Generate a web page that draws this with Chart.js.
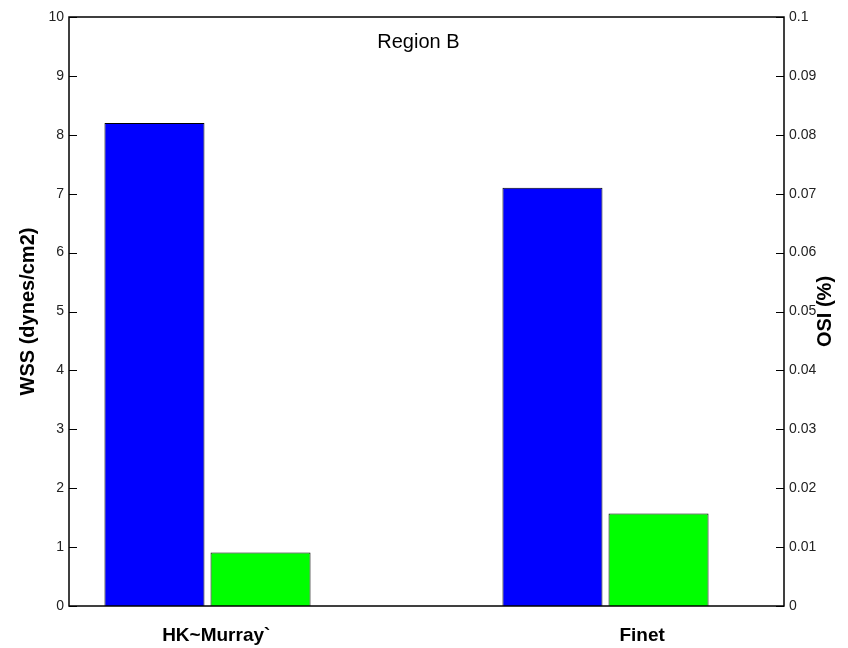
<!DOCTYPE html>
<html>
<head>
<meta charset="utf-8">
<title>Region B – WSS and OSI</title>
<script src="https://cdn.jsdelivr.net/npm/chart.js@4.4.1/dist/chart.umd.min.js"></script>
<style>
  html, body { margin: 0; padding: 0; background: #fff; }
  canvas { display: block; }
</style>
</head>
<body>
<canvas id="chart" width="848" height="648"></canvas>
<script>
// Cases compared in region B
const categories = ['HK~Murray`', 'Finet'];
// Wall shear stress, dynes/cm2 (left axis)
const wssValues = [8.2, 7.1];
// Oscillatory shear index, % (right axis)
const osiValues = [0.0091, 0.0157];
// Axis ticks
const wssTicks = [0, 1, 2, 3, 4, 5, 6, 7, 8, 9, 10];
const osiTicks = [0, 0.01, 0.02, 0.03, 0.04, 0.05, 0.06, 0.07, 0.08, 0.09, 0.1];

const FONT = '"Liberation Sans", Arial, Helvetica, sans-serif';

// Label anchor shift (in x units) for each case name under the bars
const labelShift = [0.022, 0.092];

// Frame, inward tick marks, rotated axis titles and the in-plot heading
const decorations = {
  id: 'decorations',
  afterDatasetsDraw(chart) {
    const { ctx, chartArea: a, scales } = chart;
    ctx.save();
    ctx.strokeStyle = '#000';
    ctx.lineWidth = 1;
    // left ticks
    scales.y.ticks.forEach(t => {
      const py = Math.round(scales.y.getPixelForValue(t.value)) + 0.5;
      ctx.beginPath(); ctx.moveTo(a.left, py); ctx.lineTo(a.left + 8, py); ctx.stroke();
    });
    // right ticks
    scales.y1.ticks.forEach(t => {
      const py = Math.round(scales.y1.getPixelForValue(t.value)) + 0.5;
      ctx.beginPath(); ctx.moveTo(a.right - 8, py); ctx.lineTo(a.right, py); ctx.stroke();
    });
    // box
    ctx.lineWidth = 1.5;
    ctx.strokeRect(a.left, a.top, a.right - a.left, a.bottom - a.top);

    ctx.fillStyle = '#000';
    // heading inside the plot
    ctx.font = '20px ' + FONT;
    ctx.textAlign = 'center';
    ctx.textBaseline = 'alphabetic';
    ctx.fillText('Region B', scales.x.getPixelForValue(1.53), 48);

    // axis titles, both read bottom-to-top
    ctx.font = 'bold 20px ' + FONT;
    ctx.textBaseline = 'middle';
    const midY = (a.top + a.bottom) / 2;
    [['WSS (dynes/cm2)', 28], ['OSI (%)', 825]].forEach(([txt, x]) => {
      ctx.save();
      ctx.translate(x, midY);
      ctx.rotate(-Math.PI / 2);
      ctx.fillText(txt, 0, 0);
      ctx.restore();
    });
    ctx.restore();
  }
};

new Chart(document.getElementById('chart'), {
  type: 'bar',
  data: {
    datasets: [
      {
        label: 'WSS',
        data: categories.map((c, i) => ({ x: i + 1, y: wssValues[i] })),
        yAxisID: 'y',
        backgroundColor: '#0000ff',
        borderColor: '#000',
        borderWidth: 1
      },
      {
        label: 'OSI',
        data: categories.map((c, i) => ({ x: i + 1, y: osiValues[i] })),
        yAxisID: 'y1',
        backgroundColor: '#00ff00',
        borderColor: '#000',
        borderWidth: 1
      }
    ]
  },
  options: {
    responsive: false,
    animation: false,
    events: [],
    barPercentage: 0.943,
    categoryPercentage: 0.533,
    layout: { padding: { top: 17, left: 0, right: 0, bottom: 0 } },
    plugins: {
      legend: { display: false },
      title: { display: false },
      tooltip: { enabled: false }
    },
    scales: {
      x: {
        type: 'linear',
        offset: false,
        min: 0.652,
        max: 2.4485,
        grid: { display: false, drawTicks: false },
        border: { display: false },
        afterBuildTicks(scale) {
          scale.ticks = categories.map((c, i) => ({ value: i + 1 + labelShift[i] }));
        },
        afterFit(scale) { scale.height = 42; },
        ticks: {
          autoSkip: false,
          maxRotation: 0,
          padding: 18,
          color: '#000',
          font: { family: FONT, size: 19, weight: 'bold' },
          callback: (v, i) => categories[i]
        }
      },
      y: {
        position: 'left',
        min: 0,
        max: 10,
        grid: { display: false, drawTicks: false },
        border: { display: false },
        afterBuildTicks(scale) { scale.ticks = wssTicks.map(v => ({ value: v })); },
        afterFit(scale) { scale.width = 69; },
        ticks: {
          padding: 5,
          color: '#222',
          font: { family: FONT, size: 14 },
          callback: v => String(v)
        }
      },
      y1: {
        position: 'right',
        min: 0,
        max: 0.1,
        grid: { display: false, drawTicks: false },
        border: { display: false },
        afterBuildTicks(scale) { scale.ticks = osiTicks.map(v => ({ value: v })); },
        afterFit(scale) { scale.width = 64; },
        ticks: {
          padding: 5,
          color: '#222',
          font: { family: FONT, size: 14 },
          callback: v => String(+v.toFixed(2))
        }
      }
    }
  },
  plugins: [decorations]
});
</script>
</body>
</html>
